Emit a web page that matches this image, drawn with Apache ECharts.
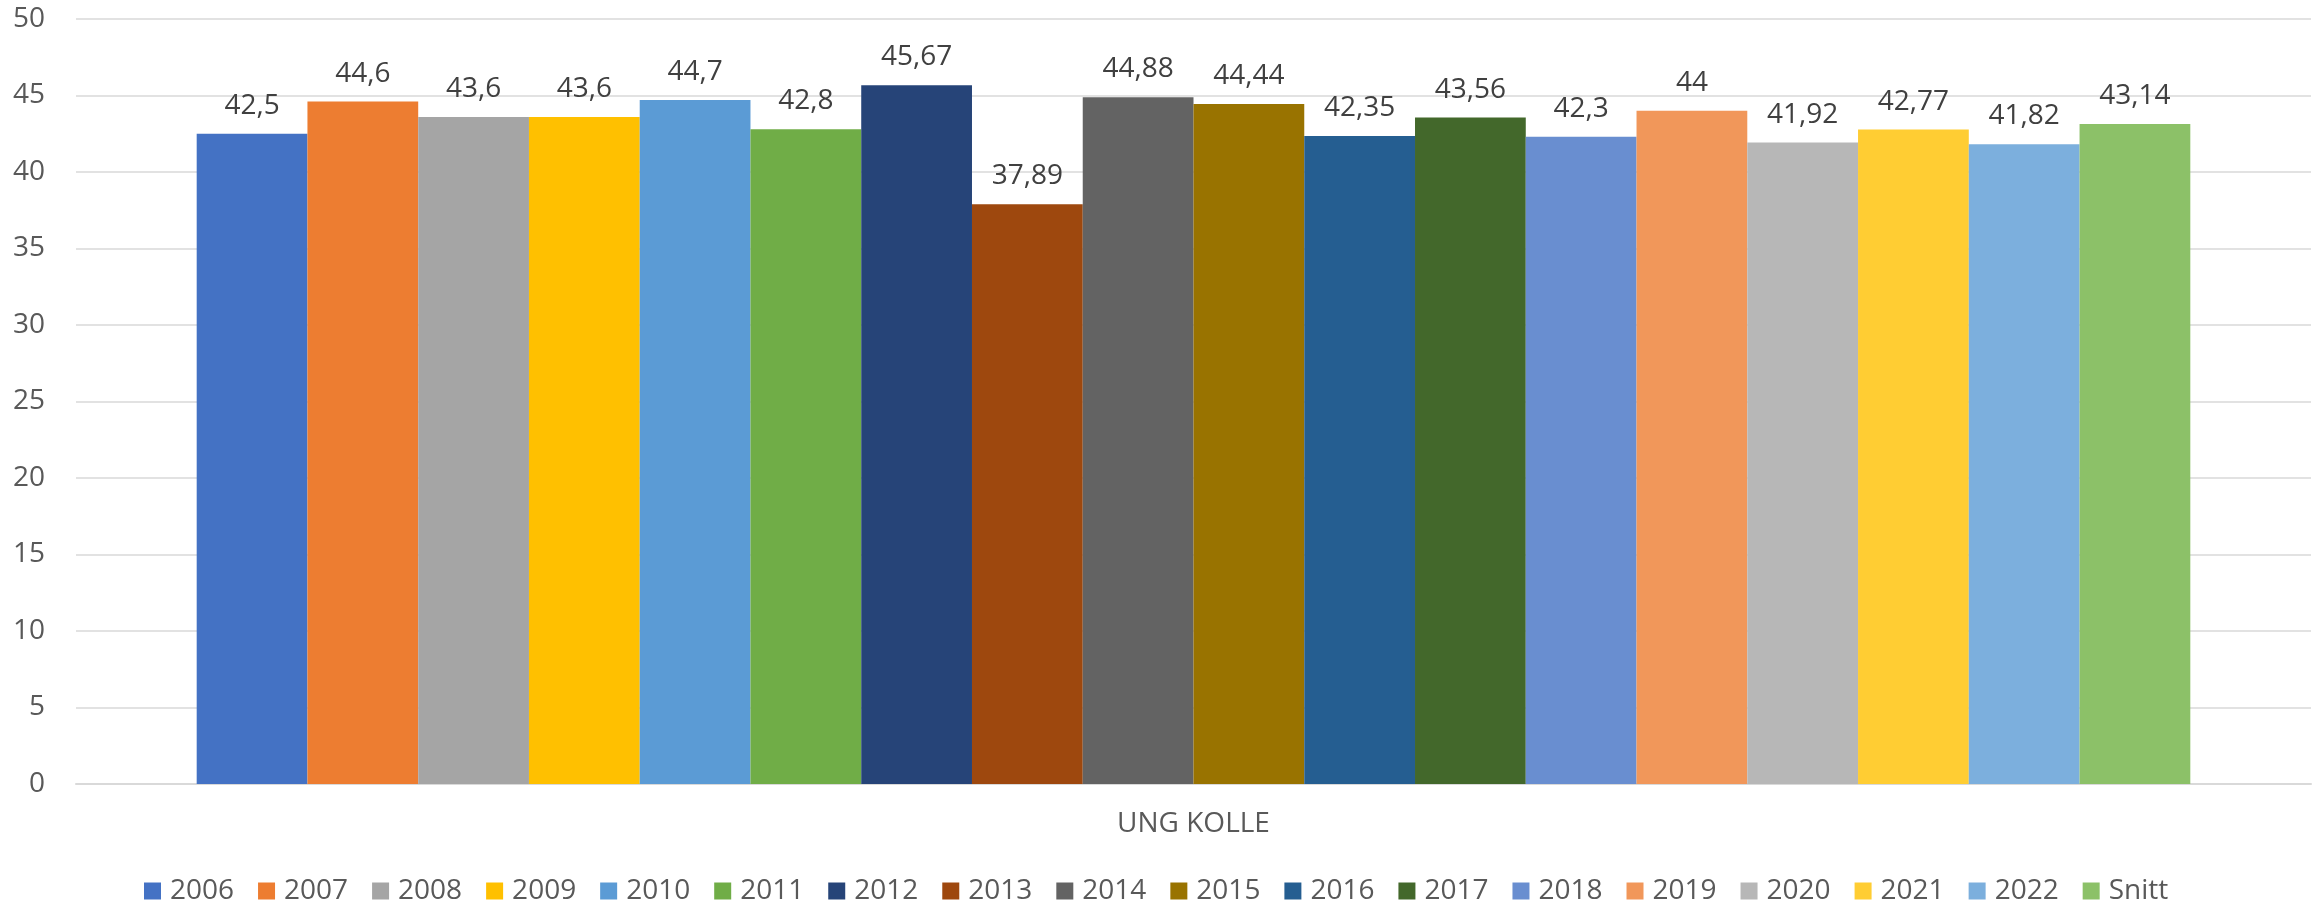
<!DOCTYPE html>
<html>
<head>
<meta charset="utf-8">
<script src="https://cdn.jsdelivr.net/npm/echarts@6/dist/echarts.min.js"></script>
<style>
html,body{margin:0;padding:0;background:#fff;}
#chart{width:2323px;height:902px;}
</style>
</head>
<body>
<div id="chart"></div>
<script>
const categories = ['UNG KOLLE'];
const seriesNames = ['2006','2007','2008','2009','2010','2011','2012','2013','2014','2015','2016','2017','2018','2019','2020','2021','2022','Snitt'];
const seriesValues = [42.5, 44.6, 43.6, 43.6, 44.7, 42.8, 45.67, 37.89, 44.88, 44.44, 42.35, 43.56, 42.3, 44, 41.92, 42.77, 41.82, 43.14];
const seriesColors = ['#4472C4','#ED7D31','#A5A5A5','#FFC000','#5B9BD5','#70AD47','#264478','#9E480E','#636363','#997300','#255E91','#43682B','#698ED0','#F1975A','#B7B7B7','#FFCD33','#7CAFDD','#8CC168'];
const yTicks = [0, 5, 10, 15, 20, 25, 30, 35, 40, 45, 50];

const FONT = 'Open Sans';
const chart = echarts.init(document.getElementById('chart'), null, {renderer: 'canvas'});

const series = seriesNames.map((name, i) => ({
  name: name,
  type: 'bar',
  data: [seriesValues[i]],
  itemStyle: {color: seriesColors[i]},
  barGap: '0%',
  barCategoryGap: '10.8%',
  label: {
    show: true,
    position: 'top',
    distance: 14,
    color: '#404040',
    fontFamily: FONT,
    fontSize: 28,
    formatter: p => String(p.value).replace('.', ',')
  }
}));

chart.setOption({
  animation: false,
  backgroundColor: '#ffffff',
  color: seriesColors,
  grid: {left: 76, right: 12, top: 19, bottom: 118, containLabel: false},
  legend: {
    data: seriesNames,
    top: 872,
    left: 139,
    itemWidth: 17,
    itemHeight: 17,
    itemGap: 24,
    icon: 'rect',
    textStyle: {color: '#595959', fontFamily: FONT, fontSize: 28, padding: [0, 0, 0, 4]}
  },
  xAxis: {
    type: 'category',
    data: categories,
    axisTick: {show: false},
    axisLine: {show: true, lineStyle: {color: '#D9D9D9', width: 2}},
    axisLabel: {color: '#595959', fontFamily: FONT, fontSize: 28, margin: 26}
  },
  yAxis: {
    type: 'value',
    min: yTicks[0],
    max: yTicks[yTicks.length - 1],
    interval: yTicks[1] - yTicks[0],
    axisLine: {show: false},
    axisTick: {show: false},
    splitLine: {lineStyle: {color: '#D9D9D9', width: 1.5}},
    axisLabel: {color: '#595959', fontFamily: FONT, fontSize: 28, margin: 31}
  },
  series: series
});
</script>
</body>
</html>
